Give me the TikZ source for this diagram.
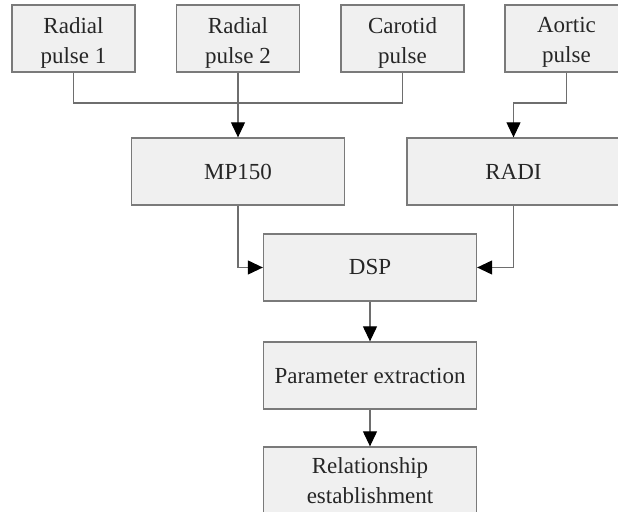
\documentclass[tikz,border=0pt]{standalone}
\usepackage{fontspec}
\setmainfont{Liberation Serif}
\usetikzlibrary{arrows.meta}
\definecolor{boxfill}{HTML}{F0F0F0}
\definecolor{boxline}{HTML}{7A7A7A}
\definecolor{connline}{HTML}{6E6E6E}
\tikzset{
  txt/.style={align=center, text=black!85, font=\fontsize{23}{30}\selectfont, inner sep=0pt},
  blk/.style={draw=boxline, fill=boxfill, line width=1.3pt, rectangle, inner sep=0pt,
    minimum height=67pt, txt},
  topblk/.style={blk, minimum width=123pt},
  midblk/.style={blk, minimum width=213pt},
  conn/.style={draw=connline, line width=1.1pt},
  arr/.style={conn, -{Triangle[length=15pt,width=14pt,fill=black,color=black]}}
}
\begin{document}
\begin{tikzpicture}[x=1pt,y=1pt]
\useasboundingbox (0,0) rectangle (618,511);
\clip (0,0) rectangle (618,511);
\fill[white] (0,0) rectangle (618,511);
\node[topblk, label={[txt,yshift=-4pt]center:Radial\\pulse 1}] (rp1) at (73.5,472.5) {};
\node[topblk, label={[txt,yshift=-4pt]center:Radial\\pulse 2}] (rp2) at (238,472.5) {};
\node[topblk, label={[txt,yshift=-4pt]center:Carotid\\pulse}] (car) at (402.5,472.5) {};
\node[topblk, label={[txt,yshift=-4pt]center:Aortic\\pulse}] (aor) at (566.5,472.5) {};
\node[midblk] (mp) at (238,339.5) {MP150};
\node[midblk] (radi) at (513.5,339.5) {RADI};
\node[midblk] (dsp) at (370,243.5) {DSP};
\node[midblk] (par) at (370,135.5) {Parameter extraction};
\node[midblk] (rel) at (370,30.5) {Relationship\\establishment};
\coordinate (bus) at (0,408);
\draw[conn] (rp1.south) |- (car.south |- bus) -- (car.south);
\draw[arr] (rp2.south) -- (mp.north);
\draw[arr] (aor.south) |- (radi.north |- bus) -- (radi.north);
\draw[arr] (mp.south) |- (dsp.west);
\draw[arr] (radi.south) |- (dsp.east);
\draw[arr] (dsp.south) -- (par.north);
\draw[arr] (par.south) -- (rel.north);
\end{tikzpicture}
\end{document}
